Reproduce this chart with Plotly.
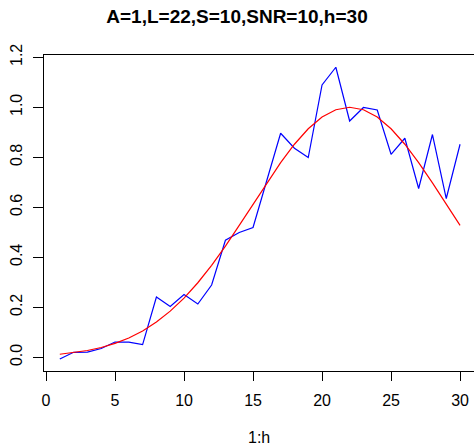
import plotly.graph_objects as go

# time index 1..h
h_idx = list(range(1, 31))

# observed (noisy) series
observed = [-0.007, 0.020, 0.021, 0.035, 0.061, 0.061, 0.051, 0.241, 0.203, 0.251,
            0.213, 0.289, 0.468, 0.499, 0.519, 0.708, 0.896, 0.836, 0.799, 1.089,
            1.160, 0.945, 0.999, 0.989, 0.812, 0.876, 0.675, 0.891, 0.635, 0.852]

# underlying signal (peak at L=22)
signal = [0.0122, 0.0183, 0.0271, 0.0392, 0.0556, 0.0773, 0.1054, 0.1409, 0.1845, 0.2369,
          0.2982, 0.3679, 0.4449, 0.5273, 0.6126, 0.6977, 0.7788, 0.8521, 0.9139, 0.9608,
          0.9900, 1.0000, 0.9900, 0.9608, 0.9139, 0.8521, 0.7788, 0.6977, 0.6126, 0.5273]

x_ticks = [0, 5, 10, 15, 20, 25, 30]
y_ticks = [0.0, 0.2, 0.4, 0.6, 0.8, 1.0, 1.2]

FONT = "Liberation Sans, Arial, sans-serif"

fig = go.Figure()
fig.add_trace(go.Scatter(x=h_idx, y=observed, mode="lines",
                         line=dict(color="#0000ff", width=1.2), showlegend=False))
fig.add_trace(go.Scatter(x=h_idx, y=signal, mode="lines",
                         line=dict(color="#ff0000", width=1.2), showlegend=False))

fig.update_layout(
    width=474, height=445,
    margin=dict(l=44, r=0, t=55, b=74),
    paper_bgcolor="white", plot_bgcolor="white",
    font=dict(family=FONT, size=16, color="black"),
    title=dict(text="<b>A=1,L=22,S=10,SNR=10,h=30</b>",
               font=dict(family=FONT, size=19, color="black"),
               x=0.5, xanchor="center", xref="container",
               y=1 - 16.5 / 445, yanchor="middle", yref="container"),
    xaxis=dict(range=[-0.145, 31.01], tickvals=x_ticks,
               ticktext=[str(v) for v in x_ticks],
               showgrid=False, zeroline=False,
               showline=True, mirror=True, linecolor="black", linewidth=1,
               ticks="outside", ticklen=9, tickcolor="black", tickwidth=1,
               ticklabelstandoff=6,
               tickfont=dict(family=FONT, size=16, color="black")),
    yaxis=dict(range=[-0.0548, 1.209], tickvals=y_ticks,
               ticktext=[f"{v:.1f}" for v in y_ticks],
               showgrid=False, zeroline=False,
               showline=True, mirror=False, linecolor="black", linewidth=1,
               ticks="outside", ticklen=10, tickcolor="black", tickwidth=1,
               tickangle=-90, ticklabelstandoff=5,
               tickfont=dict(family=FONT, size=16, color="black")),
    annotations=[dict(text="1:h", x=0.5, xref="paper",
                      y=-(437.5 - 371) / 316, yref="paper",
                      xanchor="center", yanchor="middle", showarrow=False,
                      font=dict(family=FONT, size=16, color="black"))],
)

fig.write_html("out.html")
